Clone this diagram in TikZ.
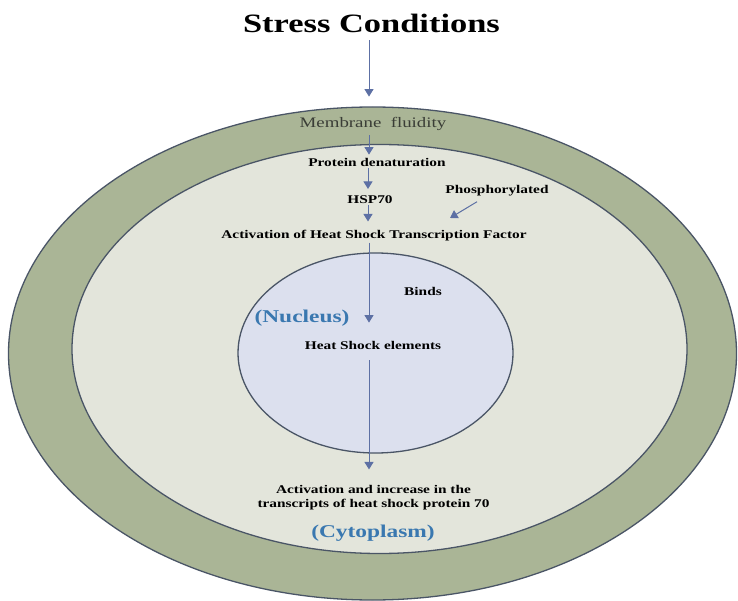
\documentclass[tikz,border=0pt]{standalone}
\usepackage{fontspec}
\setmainfont{Liberation Serif}[FakeStretch=1.3]
\usetikzlibrary{arrows.meta}

\definecolor{ringgreen}{HTML}{AAB596}
\definecolor{cytofill}{HTML}{E3E5DB}
\definecolor{nucfill}{HTML}{DCE0EE}
\definecolor{rimline}{HTML}{4A5566}
\definecolor{arrowblue}{HTML}{5D70A4}
\definecolor{labelblue}{HTML}{3A78B0}
\definecolor{membtext}{HTML}{3A3D36}

\tikzset{
  compartment/.style={draw=rimline, line width=1.3pt},
  steplabel/.style={inner sep=0pt, anchor=base, font=\fontsize{11.8}{13.5}\selectfont\bfseries},
  partlabel/.style={inner sep=0pt, anchor=base, text=labelblue, font=\fontsize{18}{20}\selectfont\bfseries},
  flow/.style={draw=arrowblue, line width=1pt, -{Triangle[width=9pt,length=7.5pt]}, arrowblue},
}

\begin{document}
\begin{tikzpicture}[x=1pt, y=-1pt]
  \fill[white] (0,0) rectangle (738,601);
  \useasboundingbox (0,0) rectangle (738,601);

  % cell membrane, cytoplasm and nucleus
  \fill[ringgreen, compartment] (372.5,353.5) ellipse [x radius=364, y radius=246.5];
  \fill[cytofill, compartment] (379.5,349) ellipse [x radius=307.5, y radius=204.5];
  \fill[nucfill, compartment] (375.5,353) ellipse [x radius=137.5, y radius=100];

  % labels
  \node[inner sep=0pt, anchor=base, font=\fontsize{26.5}{30}\selectfont\bfseries] (stress) at (371.5,33) {Stress Conditions};
  \node[inner sep=0pt, anchor=base, text=membtext, font=\fontsize{14.5}{16}\selectfont] (membrane) at (373,128) {Membrane\ \ fluidity};
  \node[steplabel] (denat) at (377,167) {Protein denaturation};
  \node[steplabel] (hsp) at (370,204) {HSP70};
  \node[steplabel] (phos) at (497,194) {Phosphorylated};
  \node[steplabel] (hsf) at (374,239) {Activation of Heat Shock Transcription Factor};
  \node[steplabel] (binds) at (423,296) {Binds};
  \node[partlabel] (nucleus) at (302,322) {(Nucleus)};
  \node[steplabel] (hse) at (373,349) {Heat Shock elements};
  \node[inner sep=0pt, align=center, font=\fontsize{11.8}{14}\selectfont\bfseries] (result) at (373.5,498)
    {Activation and increase in the\\transcripts of heat shock protein 70};
  \node[partlabel] (cyto) at (373,537) {(Cytoplasm)};

  % signalling pathway
  \coordinate (axis) at (369,0);
  \coordinate (phostip) at (450,218);
  \draw[flow, shorten <=7pt, shorten >=21pt] (stress.south -| axis) -- (membrane.north -| axis);
  \draw[flow, shorten <=4pt, shorten >=4pt] (membrane.south -| axis) -- (denat.north -| axis);
  \draw[flow, shorten <=1pt, shorten >=7pt] (denat.south -| hsp) ++(-2,0) -- ([xshift=-2pt]hsp.north);
  \draw[flow, shorten <=1pt, shorten >=9pt] ([xshift=-2pt]hsp.south) -- ([xshift=-2pt]hsp.south |- hsf.north);
  \draw[flow, shorten <=1pt, shorten >=18pt] (hsf.south -| axis) -- (hse.north -| axis);
  \draw[flow, shorten <=11pt, shorten >=16pt] (hse.south -| axis) -- (result.north -| axis);
  \draw[flow, shorten >=0pt] ([shift={(-20pt,-5pt)}]phos.south) -- (phostip);
\end{tikzpicture}
\end{document}
